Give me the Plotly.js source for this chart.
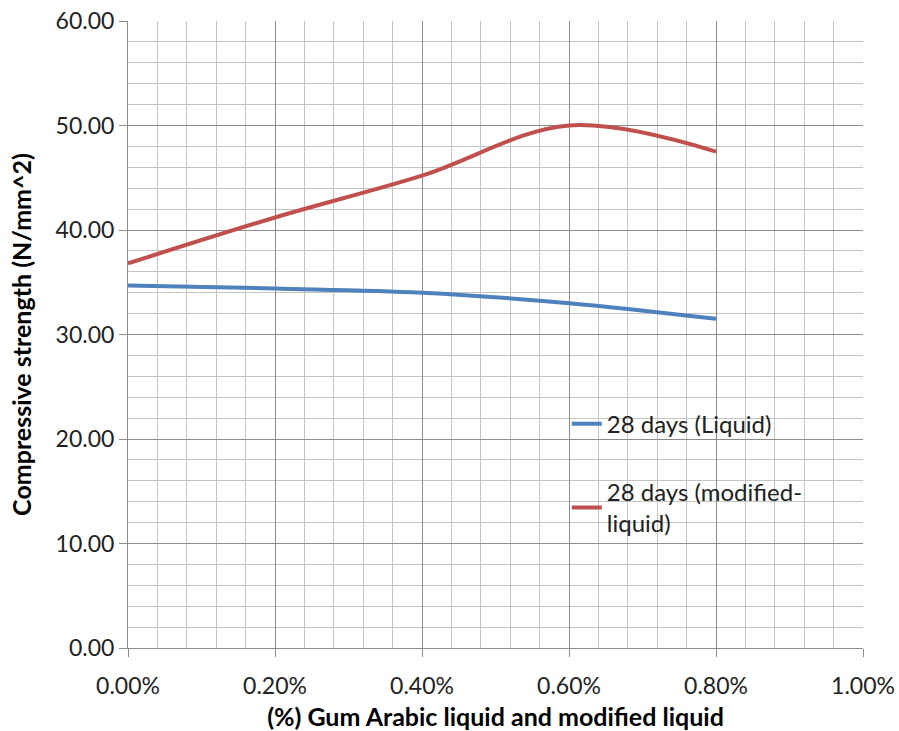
<!DOCTYPE html>
<html>
<head>
<meta charset="utf-8">
<script src="https://cdn.plot.ly/plotly-3.0.1.min.js"></script>
<style>html,body{margin:0;padding:0;background:#fff;}#chart{width:899px;height:731px;}</style>
</head>
<body>
<div id="chart"></div>
<script>
// Data (x as fractions, displayed as percent)
const dosage = [0, 0.002, 0.004, 0.006, 0.008];
const liquid28 = [34.7, 34.4, 34.0, 33.0, 31.5];
const modified28 = [36.8, 41.2, 45.2, 50.0, 47.5];
const seriesNames = ["28 days (Liquid)", "28 days (modified-<br>liquid)"];
const xTitle = "(%) Gum Arabic liquid and modified liquid";
const yTitle = "Compressive strength (N/mm^2)";

const font = "Lato, 'Open Sans', 'Liberation Sans', sans-serif";

const traces = [
  {x: dosage, y: liquid28, name: seriesNames[0], mode: 'lines', legendgroup: 'a',
   line: {color: '#4F81BD', width: 4, shape: 'spline', smoothing: 1}},
  {x: dosage, y: modified28, name: seriesNames[1], mode: 'lines', legendgroup: 'b',
   line: {color: '#C0504D', width: 4, shape: 'spline', smoothing: 1}}
];

const layout = {
  width: 899, height: 731,
  margin: {l: 128, r: 36, t: 21, b: 83},
  paper_bgcolor: '#fff', plot_bgcolor: '#fff',
  font: {family: font, size: 17, color: '#000'},
  showlegend: true,
  legend: {x: 0.597, y: 0.393, xanchor: 'left', yanchor: 'top',
           bgcolor: 'rgba(0,0,0,0)', font: {family: font, size: 24, color: '#222'},
           tracegroupgap: 34},
  xaxis: {
    range: [0, 0.01], dtick: 0.002, tick0: 0, tickformat: '.2%',
    showgrid: true, gridcolor: '#8c8c8c', gridwidth: 1,
    minor: {dtick: 0.0004, showgrid: true, gridcolor: '#c4c4c4', gridwidth: 1},
    showline: true, linecolor: '#8c8c8c', linewidth: 1,
    ticks: 'outside', ticklen: 8, tickcolor: '#8c8c8c', ticklabelstandoff: 9,
    zeroline: false, fixedrange: true, automargin: false,
    tickfont: {family: font, size: 23, color: '#222'},
    title: {text: '<b>' + xTitle + '</b>', font: {family: font, size: 25, color: '#000'}, standoff: 10}
  },
  yaxis: {
    range: [0, 60], dtick: 10, tick0: 0, tickformat: '.2f',
    showgrid: true, gridcolor: '#8c8c8c', gridwidth: 1,
    minor: {dtick: 2, showgrid: true, gridcolor: '#c4c4c4', gridwidth: 1},
    showline: true, linecolor: '#8c8c8c', linewidth: 1,
    ticks: 'outside', ticklen: 8, tickcolor: '#8c8c8c',
    zeroline: false, fixedrange: true, automargin: false,
    tickfont: {family: font, size: 23, color: '#222'},
    title: {text: '<b>' + yTitle + '</b>', font: {family: font, size: 25, color: '#000'}, standoff: 16}
  }
};

Plotly.newPlot('chart', traces, layout, {displayModeBar: false, staticPlot: true});
</script>
</body>
</html>
